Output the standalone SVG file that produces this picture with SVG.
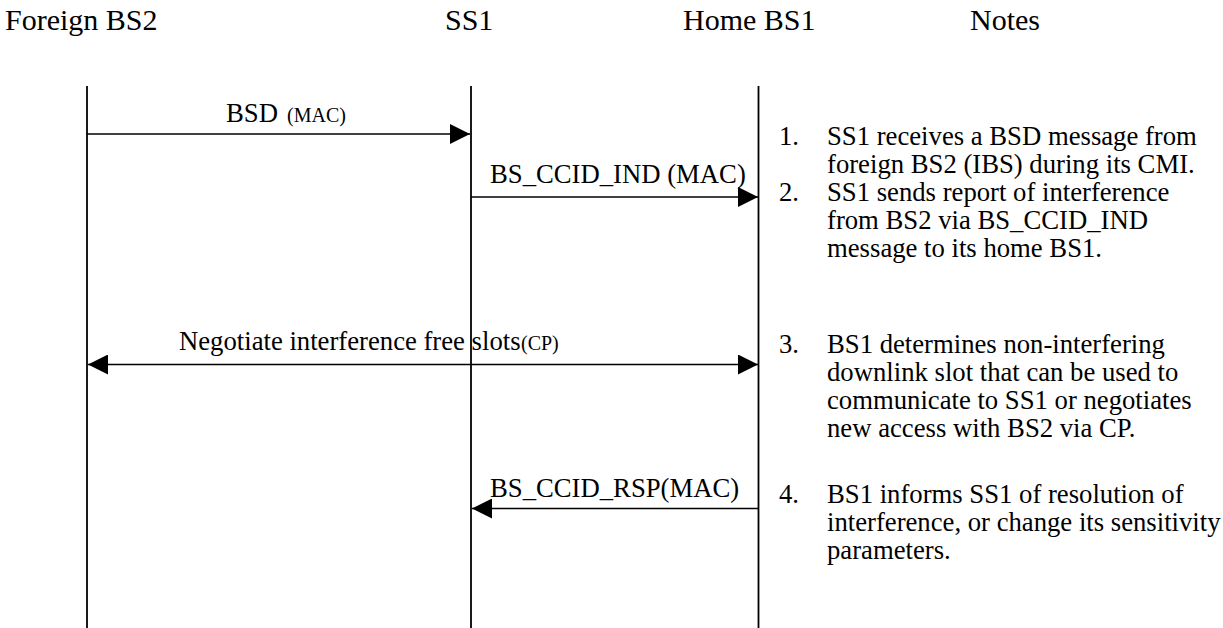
<svg xmlns="http://www.w3.org/2000/svg" width="1223" height="628" viewBox="0 0 1223 628">
<style>
text{font-family:"Liberation Serif","Times New Roman",serif;fill:#000}
.h{font-size:30px}
.l{font-size:26.7px}
.s{font-size:20px}
.n{font-size:26.7px}
.life{stroke:#000;stroke-width:1.8;fill:none}
.msg{stroke:#000;stroke-width:1.6;fill:none}
</style>
<defs>
<marker id="ah" markerUnits="userSpaceOnUse" viewBox="0 0 20 20" refX="20" refY="10" markerWidth="20" markerHeight="20" orient="auto-start-reverse">
<path d="M0,0 L20,10 L0,20 z" fill="#000"/>
</marker>
</defs>
<rect width="1223" height="628" fill="#fff"/>
<g id="foreign-bs2">
<text class="h" x="5" y="30">Foreign BS2</text>
<line class="life" x1="87" y1="86" x2="87" y2="628"/>
</g>
<g id="ss1">
<text class="h" x="445" y="30">SS1</text>
<line class="life" x1="471" y1="86" x2="471" y2="628"/>
</g>
<g id="home-bs1">
<text class="h" x="683" y="30">Home BS1</text>
<line class="life" x1="758.5" y1="86" x2="758.5" y2="628"/>
</g>
<g id="notes">
<text class="h" x="970" y="30">Notes</text>
<text class="n" x="779" y="145">1.</text>
<text class="n" x="827" y="145">SS1 receives a BSD message from</text>
<text class="n" x="827" y="173">foreign BS2 (IBS) during its CMI.</text>
<text class="n" x="779" y="201">2.</text>
<text class="n" x="827" y="201">SS1 sends report of interference</text>
<text class="n" x="827" y="229">from BS2 via BS_CCID_IND</text>
<text class="n" x="827" y="257">message to its home BS1.</text>
<text class="n" x="779" y="353">3.</text>
<text class="n" x="827" y="353">BS1 determines non-interfering</text>
<text class="n" x="827" y="381">downlink slot that can be used to</text>
<text class="n" x="827" y="409">communicate to SS1 or negotiates</text>
<text class="n" x="827" y="437">new access with BS2 via CP.</text>
<text class="n" x="779" y="503">4.</text>
<text class="n" x="827" y="503">BS1 informs SS1 of resolution of</text>
<text class="n" x="827" y="531">interference, or change its sensitivity</text>
<text class="n" x="827" y="559">parameters.</text>
</g>
<g id="connectors">
<line class="msg" x1="87" y1="134" x2="470" y2="134" marker-end="url(#ah)"/>
<text class="l" x="226" y="122">BSD</text><text class="s" x="287" y="122">(MAC)</text>
<line class="msg" x1="471" y1="197" x2="758" y2="197" marker-end="url(#ah)"/>
<text class="l" x="490" y="183">BS_CCID_IND (MAC)</text>
<line class="msg" x1="88" y1="364.5" x2="758" y2="364.5" marker-start="url(#ah)" marker-end="url(#ah)"/>
<text class="l" x="179" y="350">Negotiate interference free slots</text><text class="s" x="521" y="350">(CP)</text>
<line class="msg" x1="758" y1="508.5" x2="472" y2="508.5" marker-end="url(#ah)"/>
<text class="l" x="490" y="497">BS_CCID_RSP(MAC)</text>
</g>
</svg>
